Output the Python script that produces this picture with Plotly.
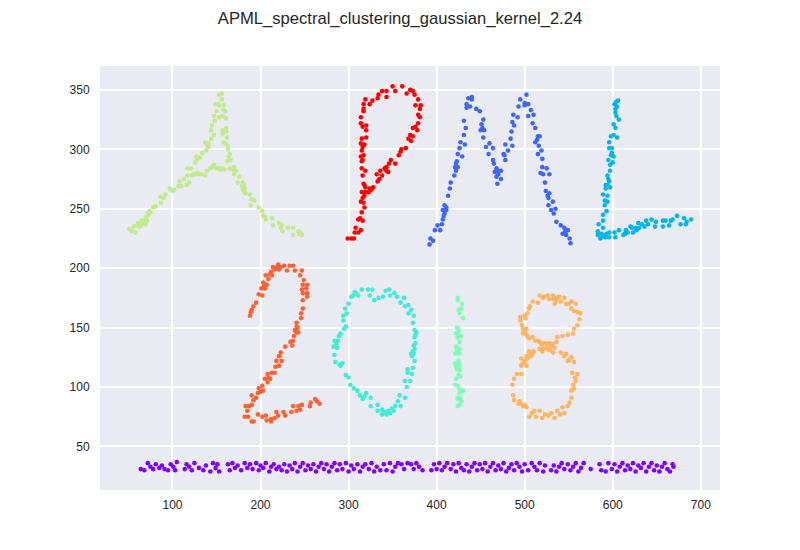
import plotly.graph_objects as go

TITLE = "APML_spectral_clustering_gaussian_kernel_2.24"

letter_A = [(51,233),(54,231),(58,230),(56,235),(61,238),(63,235),(66,238),(69,237),(67,240),(71,240),(64,236),(68,239),
(72,246),(75,247),(73,245),(78,251),(81,252),(87,255),(86,260),(90,259),(92,262),(97,267),(100,265),(102,266),(107,269),(110,269),
(108,273),(113,275),(116,270),(119,272),(117,278),(122,278),(126,279),(130,279),(133,279),(137,278),(139,282),(143,284),(147,287),
(150,284),(154,283),(159,283),(165,284),(170,285),(172,282),(170,279),(176,277),(174,272),(179,269),(182,267),(183,263),(180,266),(181,270),
(188,262),(190,258),(193,257),(189,253),(198,251),(202,248),(203,244),(206,241),(213,242),(214,236),(221,238),(223,234),(225,231),
(231,234),(237,234),(237,228),(243,231),(247,228),(244,229),(117,284),(121,284),(126,289),(128,292),(127,294),(131,293),(134,297),
(138,299),(137,306),(141,305),(141,302),(139,304),(144,309),(144,316),(147,312),(145,320),(148,324),(147,328),(153,327),(150,332),
(149,338),(153,337),(151,338),(153,346),(156,347),(156,342),(158,337),(158,333),(160,332),(157,328),(161,326),(161,318),(157,316),
(161,315),(157,313),(162,310),(160,305),(163,303),(158,306),(163,300),(165,296),(164,294),(166,291),(162,290),
(124,279),(128,280),(145,285),(152,284),(156,284),(168,283),(60,236),(65,240),(70,243),(74,248),(182,264),(180,272),(205,243),(224,236),(245,230)]

letter_P = [(299,225),(303,225),(306,225),(307,230),(308,234),(311,230),(314,232),(311,241),(316,240),(313,242),(315,247),(318,251),
(314,256),(317,255),(319,264),(315,264),(318,261),(323,264),(324,267),(328,268),(317,271),(319,268),(326,266),(333,273),(335,275),
(332,279),(338,278),(336,282),(343,282),(345,281),(343,285),(346,288),(348,291),(353,288),(357,295),(359,298),(360,300),(365,301),
(371,307),(370,312),(373,311),(368,309),(373,318),(376,319),(379,322),(381,327),(379,329),(382,337),(381,334),(376,337),(379,342),
(375,346),(373,349),(370,350),(366,347),(361,353),(353,349),(350,353),(343,349),(338,349),(334,346),(343,344),(333,343),(327,341),
(324,338),(319,342),(317,338),(317,334),(317,332),(314,327),(314,322),(320,320),(316,319),(320,316),(320,310),(315,309),(314,305),
(318,304),(315,299),(314,294),(317,295),(315,290),(315,284),(319,282),(316,278),(316,302),(316,291),(318,270),(316,259),(341,284),(378,316)]

letter_M = [(392,220),(393,225),(396,223),(398,232),(404,232),(401,236),(406,237),(407,241),(409,246),(407,249),(411,251),(409,253),
(413,261),(415,267),(416,272),(420,278),(422,282),(422,288),(424,285),(424,296),(429,294),(426,301),(427,306),(432,304),(431,312),
(433,318),(431,324),(434,335),(434,338),(438,336),(436,343),(440,344),(440,342),(445,334),(449,332),(453,325),(451,321),(450,316),
(454,316),(453,310),(456,302),(460,305),(464,301),(459,296),(464,291),(465,288),(466,281),(469,282),(473,282),(468,277),(473,275),
(469,271),(478,291),(477,295),(478,304),(481,299),(486,303),(484,309),(485,315),(488,320),(486,323),(492,327),(487,329),(493,336),
(495,342),(500,337),(502,346),(504,338),(507,333),(504,328),(510,329),(509,322),(512,318),(515,311),(512,306),(517,311),(516,303),
(519,299),(515,296),(520,292),(520,285),(525,284),(518,280),(521,279),(528,279),(523,272),(524,265),(528,263),(527,259),(527,253),
(532,256),(530,249),(535,250),(533,246),(536,239),(541,236),(545,234),(543,229),(549,232),(547,228),(551,225),(552,221),
(408,244),(411,249),(421,285),(468,284),(470,279),(476,296),(500,339),(514,308),(526,261),(546,231),(423,290),(452,318)]

letter_L = [(606,341),(602,338),(605,336),(603,331),(604,328),(607,325),(601,321),(603,318),(598,311),(601,312),(605,310),(596,306),
(599,301),(596,301),(599,297),(601,294),(595,291),(600,289),(597,287),(597,282),(594,278),(596,273),(592,270),(597,268),(592,267),
(589,262),(594,261),(591,257),(594,256),(591,253),(593,248),(589,245),(589,240),(584,237),(589,234),(583,231),(583,228),(587,229),
(586,225),(592,226),(596,230),(596,226),(602,230),(603,226),(607,232),(612,228),(617,230),(615,232),(620,235),(623,230),(627,232),
(629,238),(630,234),(636,235),(638,240),(640,237),(644,241),(649,239),(648,235),(657,235),(657,240),(660,240),(664,236),(666,240),
(668,241),(673,244),(677,237),(681,242),(683,237),(684,239),(689,241),(604,340),(603,334),(595,275),(594,270),(588,228),(590,227),
(593,229),(614,229),(622,234),(626,234),(633,237),(598,295)]

digit_2 = [(188,160),(189,163),(192,168),(195,171),(198,178),(202,177),(201,183),(205,183),(203,188),(206,194),(209,191),(213,194),
(212,197),(214,201),(220,203),(221,199),(227,202),(230,198),(233,202),(237,202),(239,198),(247,198),(245,194),(249,190),(248,186),
(253,186),(252,183),(247,182),(248,179),(253,179),(253,176),(248,173),(248,166),(246,162),(246,158),(241,154),(241,151),(239,148),
(243,146),(238,143),(237,139),(234,138),(236,135),(228,134),(223,129),(221,126),(218,122),(224,122),(217,117),(221,118),(216,112),
(213,112),(208,111),(205,107),(211,107),(208,104),(202,101),(198,99),(203,97),(197,95),(190,93),(195,91),(192,89),(190,85),(183,84),
(187,84),(185,80),(182,75),(186,75),(190,71),(192,71),(197,77),(202,75),(206,76),(207,72),(212,73),(212,71),(216,74),(218,79),(220,76),
(226,79),(228,76),(235,79),(237,84),(241,80),(243,84),(245,81),(247,85),(256,84),(257,87),(262,90),(264,88),(267,86),(218,200),(223,201),
(240,147),(207,186),(190,165),(211,195),(200,96),(216,199),(219,201),(241,146),(242,150),(209,108),(204,185)]

digit_0 = [(290,119),(293,120),(285,121),(284,127),(283,134),(287,133),(284,139),(288,139),(289,143),(295,149),(297,151),(294,156),
(294,160),(298,162),(296,166),(300,170),(303,176),(307,180),(311,177),(315,182),(322,182),(324,177),(327,182),(329,173),(334,175),
(339,176),(342,181),(346,182),(347,177),(352,179),(355,176),(359,171),(363,175),(364,168),(368,169),(368,162),(371,165),(374,160),
(373,154),(375,148),(377,146),(375,142),(376,137),(375,132),(371,128),(375,122),(373,116),(367,115),(372,111),(367,112),(370,105),
(364,105),(366,100),(358,93),(364,91),(356,88),(359,84),(353,84),(351,80),(347,78),(341,79),(338,81),(333,80),(338,77),(333,85),(325,84),
(325,91),(320,95),(316,90),(313,93),(310,97),(306,99),(302,102),(300,108),(297,110),(291,118),(286,136),(305,177),(373,130),(374,135),
(372,126),(345,80),(349,82),(343,77),(318,92),(291,145),(376,144),(309,178),(374,128)]

digit_1 = [(424,175),(424,173),(429,170),(425,165),(428,166),(426,162),(430,158),(423,150),(425,148),(422,145),(428,143),(424,142),
(426,138),(422,134),(426,132),(421,128),(426,128),(425,122),(421,120),(426,118),(423,115),(426,114),(425,110),(427,109),(422,107),
(421,102),(424,101),(426,98),(430,97),(426,95),(424,90),(428,88),(426,85),(424,84),(424,146),(423,131),(424,129),(424,120),(422,117),
(424,91),(427,91)]

digit_8 = [(486,102),(488,107),(491,111),(496,111),(496,118),(502,118),(496,124),(505,128),(509,128),(517,132),(520,130),(526,132),
(530,134),(532,129),(541,129),(545,126),(553,125),(556,121),(549,122),(554,112),(560,111),(558,105),(555,102),(553,97),(553,91),(551,87),
(543,83),(545,78),(537,80),(534,74),(530,78),(523,77),(520,74),(517,80),(511,80),(513,75),(505,75),(502,83),(498,84),(494,88),(488,89),
(487,93),(526,135),(523,137),(519,136),(515,139),(509,142),(503,143),(498,149),(502,149),(495,156),(495,159),(501,158),(503,162),(505,166),
(509,172),(515,171),(517,177),(522,176),(526,177),(532,177),(536,173),(539,176),(545,175),(547,170),(553,172),(558,170),(553,166),(560,163),
(563,162),(562,157),(560,152),(556,149),(555,145),(549,144),(543,143),(537,142),(536,138),(532,136),(500,147),(498,145),(528,137),(525,133),
(503,124),(500,122),(536,175),(534,170),(500,85),(496,86),(512,139),(547,128),
(510,130),(507,126),(498,120),(502,126),(505,130),(521,175),(528,174),(533,174),(541,172),(550,170),(556,164),(506,168),(500,160),(497,152),
(501,145),(505,141),(517,138),(521,133),(529,131),(534,133),(551,123),(557,108),(556,99),(549,84),(540,77),(527,76),(508,78),(493,86)]

baseline = [(64,31),(68,30),(72,36),(75,33),(78,31),(81,35),(85,32),(88,34),(91,31),(95,30),(98,35),(101,33),(103,30),(105,37),
(114,31),(116,35),(119,33),(122,30),(125,36),(130,32),(135,30),(138,34),(143,29),(146,36),(149,32),(151,35),(153,29),
(163,35),(165,30),(168,36),(171,32),(174,34),(178,30),(182,36),(185,32),(188,35),(191,31),(195,36),(198,30),(200,34),(203,32),(206,36),
(210,29),(212,33),(215,35),(218,31),(221,33),(224,30),(227,35),(230,29),(233,34),(236,31),(239,36),(242,29),(245,33),(248,36),(251,30),(254,34),
(257,31),(260,35),(263,29),(266,33),(269,36),(272,31),(275,35),(278,29),(281,33),(284,36),(287,30),(290,35),(293,31),(297,36),(300,29),(303,34),
(306,31),(310,35),(313,29),(316,33),(319,35),(323,31),(326,36),(329,29),(332,33),(336,30),(340,35),(343,30),(347,36),(350,29),(353,33),
(356,36),(360,35),(363,31),(367,36),(371,35),(374,31),(377,36),(380,33),(384,30),(394,30),(397,35),(400,31),(403,36),(406,30),(409,33),
(412,36),(416,31),(419,35),(422,29),(425,36),(428,32),(431,30),(434,35),(437,29),(440,33),(443,36),(446,30),(449,35),(452,31),(455,36),
(458,29),(461,33),(464,36),(467,30),(470,34),(473,31),(476,36),(479,29),(482,32),(485,35),(488,30),(491,36),(494,33),(497,29),(500,35),
(504,30),(508,36),(511,33),(514,30),(517,36),(521,29),(523,34),(530,30),(533,34),(536,29),(539,33),(542,36),(545,31),(549,35),(552,30),
(555,33),(558,36),(561,29),(564,32),(567,36),(575,31),(585,35),(587,30),(592,29),(595,36),(599,31),(602,35),(605,29),(608,33),(611,36),
(614,30),(617,34),(620,31),(623,36),(626,29),(629,34),(632,32),(635,36),(638,29),(641,33),(644,36),(647,30),(650,34),(653,29),(656,33),
(659,36),(662,31),(665,29),(668,35),(669,33)]

clusters = [
    (baseline, "#8000ff"),
    (letter_M, "#3f66fa"),
    (letter_L, "#00b5eb"),
    (digit_0, "#40ecd4"),
    (digit_1, "#80ffb4"),
    (letter_A, "#c0eb8d"),
    (digit_8, "#ffb462"),
    (digit_2, "#ff6232"),
    (letter_P, "#ff0000"),
]

X_TICKS = [100, 200, 300, 400, 500, 600, 700]
Y_TICKS = [50, 100, 150, 200, 250, 300, 350]

fig = go.Figure()
for points, colour in clusters:
    fig.add_trace(go.Scatter(
        x=[p[0] for p in points], y=[p[1] for p in points],
        mode="markers", marker=dict(color=colour, size=4.6, line=dict(width=0)),
        showlegend=False, hoverinfo="skip"))

axis_style = dict(showgrid=True, gridcolor="white", gridwidth=1.6, zeroline=False, showline=False,
                  ticks="outside", tickcolor="rgba(0,0,0,0)",
                  tickfont=dict(family="Liberation Sans", size=12, color="#262626"))
fig.update_xaxes(range=[17.7, 721.8], tickvals=X_TICKS, ticklen=4, **axis_style)
fig.update_yaxes(range=[13.4, 370.1], tickvals=Y_TICKS, ticklen=7, **axis_style)
# The page adds an 8 px body margin, so the figure is 8 px smaller and its margins compensate for it.
fig.update_layout(
    width=792, height=542, autosize=False,
    margin=dict(l=92, r=80, t=58, b=60, pad=0),
    paper_bgcolor="white", plot_bgcolor="#EAEAF2",
    title=dict(text=TITLE, x=392 / 792, xanchor="center", y=1 - 10 / 542, yanchor="middle",
               font=dict(family="Liberation Sans", size=16.6, color="#262626")),
)
fig.write_html("out.html")
